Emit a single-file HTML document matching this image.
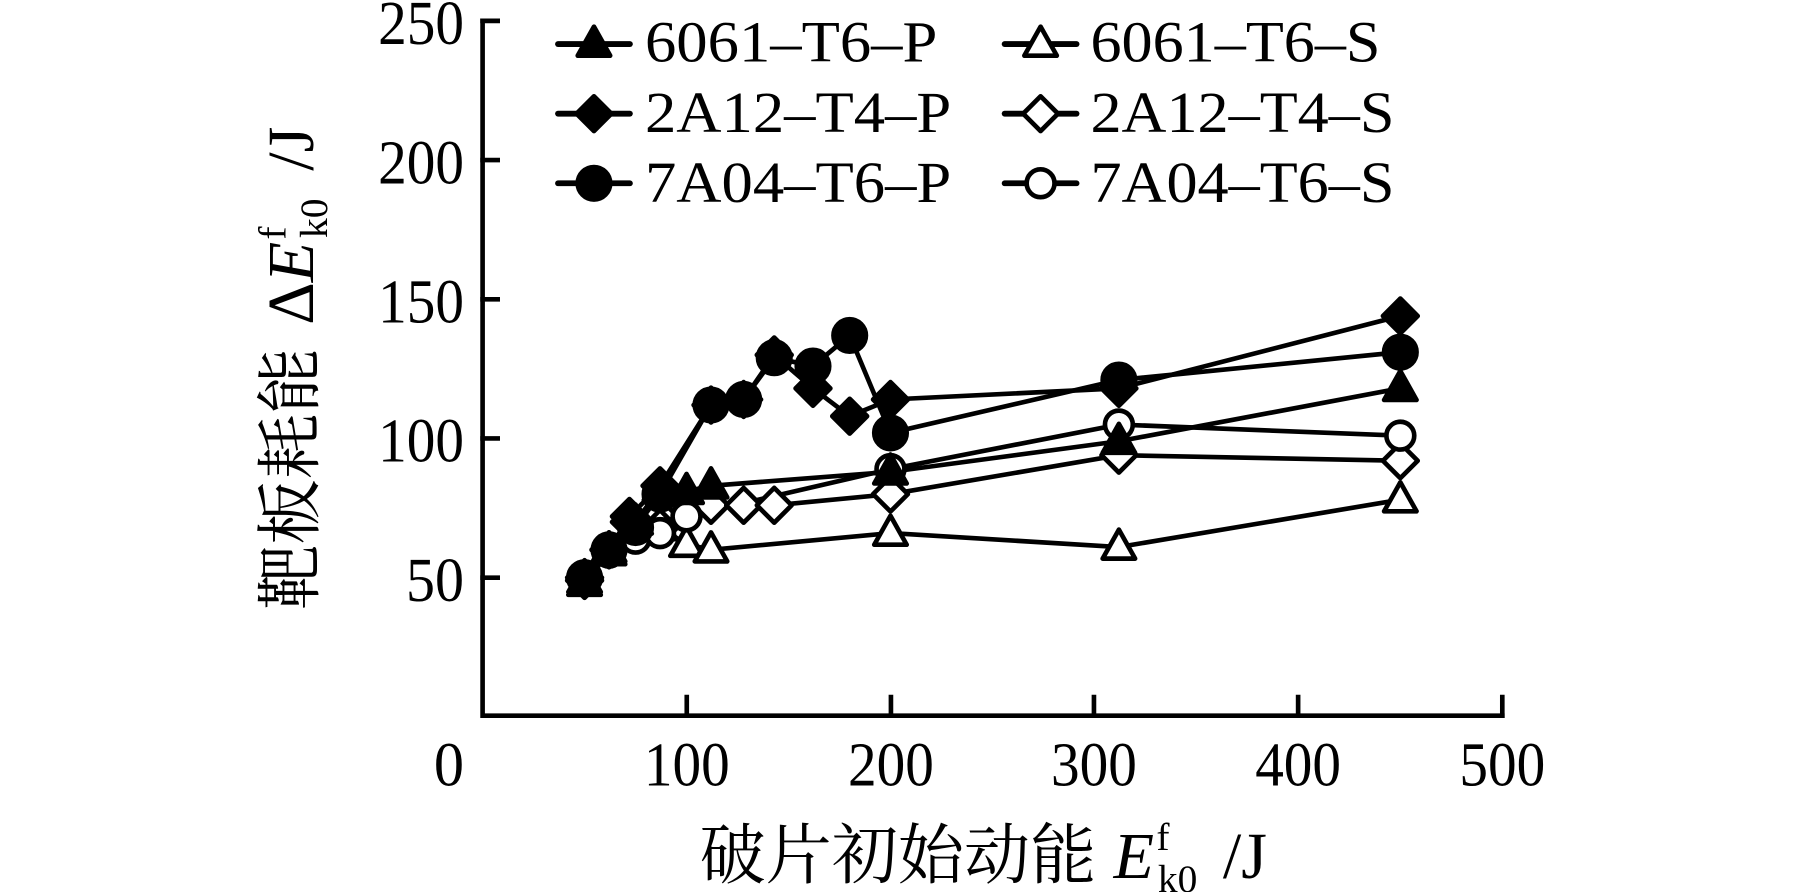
<!DOCTYPE html>
<html><head><meta charset="utf-8">
<style>
html,body{margin:0;padding:0;background:#fff;}
svg{display:block;}
text{font-family:"Liberation Serif","Noto Serif CJK SC",serif;fill:#000;}
</style></head>
<body>
<svg id="s" width="1819" height="892" viewBox="0 0 1568 769" preserveAspectRatio="none" xmlns="http://www.w3.org/2000/svg">
<g stroke="#000" stroke-width="4" fill="none" stroke-linecap="square">
<path d="M416,18 V617 H1295"/>
<path d="M416,18 h13 M416,138 h13 M416,258 h13 M416,378 h13 M416,498 h13"/>
<path d="M592,617 v-16 M768,617 v-16 M943,617 v-16 M1119,617 v-16 M1295,617 v-16"/>
</g>
<g font-size="54" text-anchor="end">
<text x="400" y="38" textLength="74" lengthAdjust="spacingAndGlyphs">250</text>
<text x="400" y="158" textLength="74" lengthAdjust="spacingAndGlyphs">200</text>
<text x="400" y="278" textLength="74" lengthAdjust="spacingAndGlyphs">150</text>
<text x="400" y="398" textLength="74" lengthAdjust="spacingAndGlyphs">100</text>
<text x="400" y="518" textLength="50" lengthAdjust="spacingAndGlyphs">50</text>
</g>
<g font-size="54" text-anchor="middle">
<text x="387" y="677" textLength="26" lengthAdjust="spacingAndGlyphs">0</text>
<text x="592" y="677" textLength="74" lengthAdjust="spacingAndGlyphs">100</text>
<text x="768" y="677" textLength="74" lengthAdjust="spacingAndGlyphs">200</text>
<text x="943" y="677" textLength="74" lengthAdjust="spacingAndGlyphs">300</text>
<text x="1119" y="677" textLength="74" lengthAdjust="spacingAndGlyphs">400</text>
<text x="1295" y="677" textLength="74" lengthAdjust="spacingAndGlyphs">500</text>
</g>
<text x="603" y="757" font-size="57" textLength="342" lengthAdjust="spacingAndGlyphs">破片初始动能</text>
<text x="960" y="757" font-size="57"><tspan font-style="italic">E</tspan><tspan font-size="34" dx="2" dy="-24">f</tspan><tspan font-size="34" dx="-10" dy="36">k0</tspan><tspan dx="22" dy="-12">/J</tspan></text>
<g transform="translate(270,526) rotate(-90)">
<text x="0" y="0" font-size="57" textLength="226" lengthAdjust="spacingAndGlyphs">靶板耗能</text>
<text x="246" y="0" font-size="57">Δ<tspan font-style="italic">E</tspan><tspan font-size="34" dx="2" dy="-24">f</tspan><tspan font-size="34" dx="-10" dy="36">k0</tspan><tspan dx="24" dy="-12">/J</tspan></text>
</g>
<g font-size="50">
<text x="556" y="53" textLength="252" lengthAdjust="spacingAndGlyphs">6061–T6–P</text>
<text x="556" y="114" textLength="264" lengthAdjust="spacingAndGlyphs">2A12–T4–P</text>
<text x="556" y="174" textLength="264" lengthAdjust="spacingAndGlyphs">7A04–T6–P</text>
<text x="940" y="53" textLength="250" lengthAdjust="spacingAndGlyphs">6061–T6–S</text>
<text x="940" y="114" textLength="262" lengthAdjust="spacingAndGlyphs">2A12–T4–S</text>
<text x="940" y="174" textLength="262" lengthAdjust="spacingAndGlyphs">7A04–T6–S</text>
</g>
<g id="g"></g>
</svg>
<script>
var g=document.getElementById('g'),NS='http://www.w3.org/2000/svg';
function X(v){return 416+v*1.758;}function Y(v){return 618-v*2.4;}
function el(t,a){var e=document.createElementNS(NS,t);for(var k in a)e.setAttribute(k,a[k]);g.appendChild(e);return e;}
function mk(type,filled,x,y){
 var a={stroke:'#000','stroke-width':4,fill:filled?'#000':'#fff','stroke-linejoin':'round'};
 if(type=='t'){a.points=[x,y-15,x+14,y+10,x-14,y+10].join(',');el('polygon',a);}
 else if(type=='d'){a.points=[x,y-15,x+15,y,x,y+15,x-15,y].join(',');el('polygon',a);}
 else {a.cx=x;a.cy=y;a.r=filled?14:12;el('circle',a);}
}
var S=[
['t',0,[[50,48],[62,59],[75,67],[87,68],[100,62],[112,60],[200,66],[312,61],[450,78]]],
['d',0,[[50,49],[62,60],[72,70],[87,68],[100,75],[112,76],[128,76],[143,76],[200,80],[312,94],[450,92]]],
['c',0,[[50,50],[62,59],[75,64],[87,66],[100,72],[200,89],[312,105],[450,101]]],
['t',1,[[50,49],[62,60],[75,70],[87,82],[100,81],[112,83],[200,88],[312,99],[450,118]]],
['d',1,[[50,50],[62,60],[72,72],[87,83],[112,112],[128,114],[143,130],[162,118],[180,108],[200,114],[312,118],[450,144]]],
['c',1,[[50,50],[62,60],[75,68],[87,80],[112,112],[128,114],[143,129],[162,126],[180,137],[200,102],[312,121],[450,131]]]
];
S.forEach(function(s){el('polyline',{points:s[2].map(function(p){return X(p[0])+','+Y(p[1]);}).join(' '),fill:'none',stroke:'#000','stroke-width':4});});
S.forEach(function(s){s[2].forEach(function(p){mk(s[0],s[1],X(p[0]),Y(p[1]));});});
var L=[['t',1,512,38],['d',1,512,98],['c',1,512,158],['t',0,897,38],['d',0,897,98],['c',0,897,158]];
L.forEach(function(l){var x0=l[2]-31;el('line',{x1:x0,y1:l[3],x2:x0+62,y2:l[3],stroke:'#000','stroke-width':5,'stroke-linecap':'round'});mk(l[0],l[1],l[2],l[3]);});
</script>
</body></html>
